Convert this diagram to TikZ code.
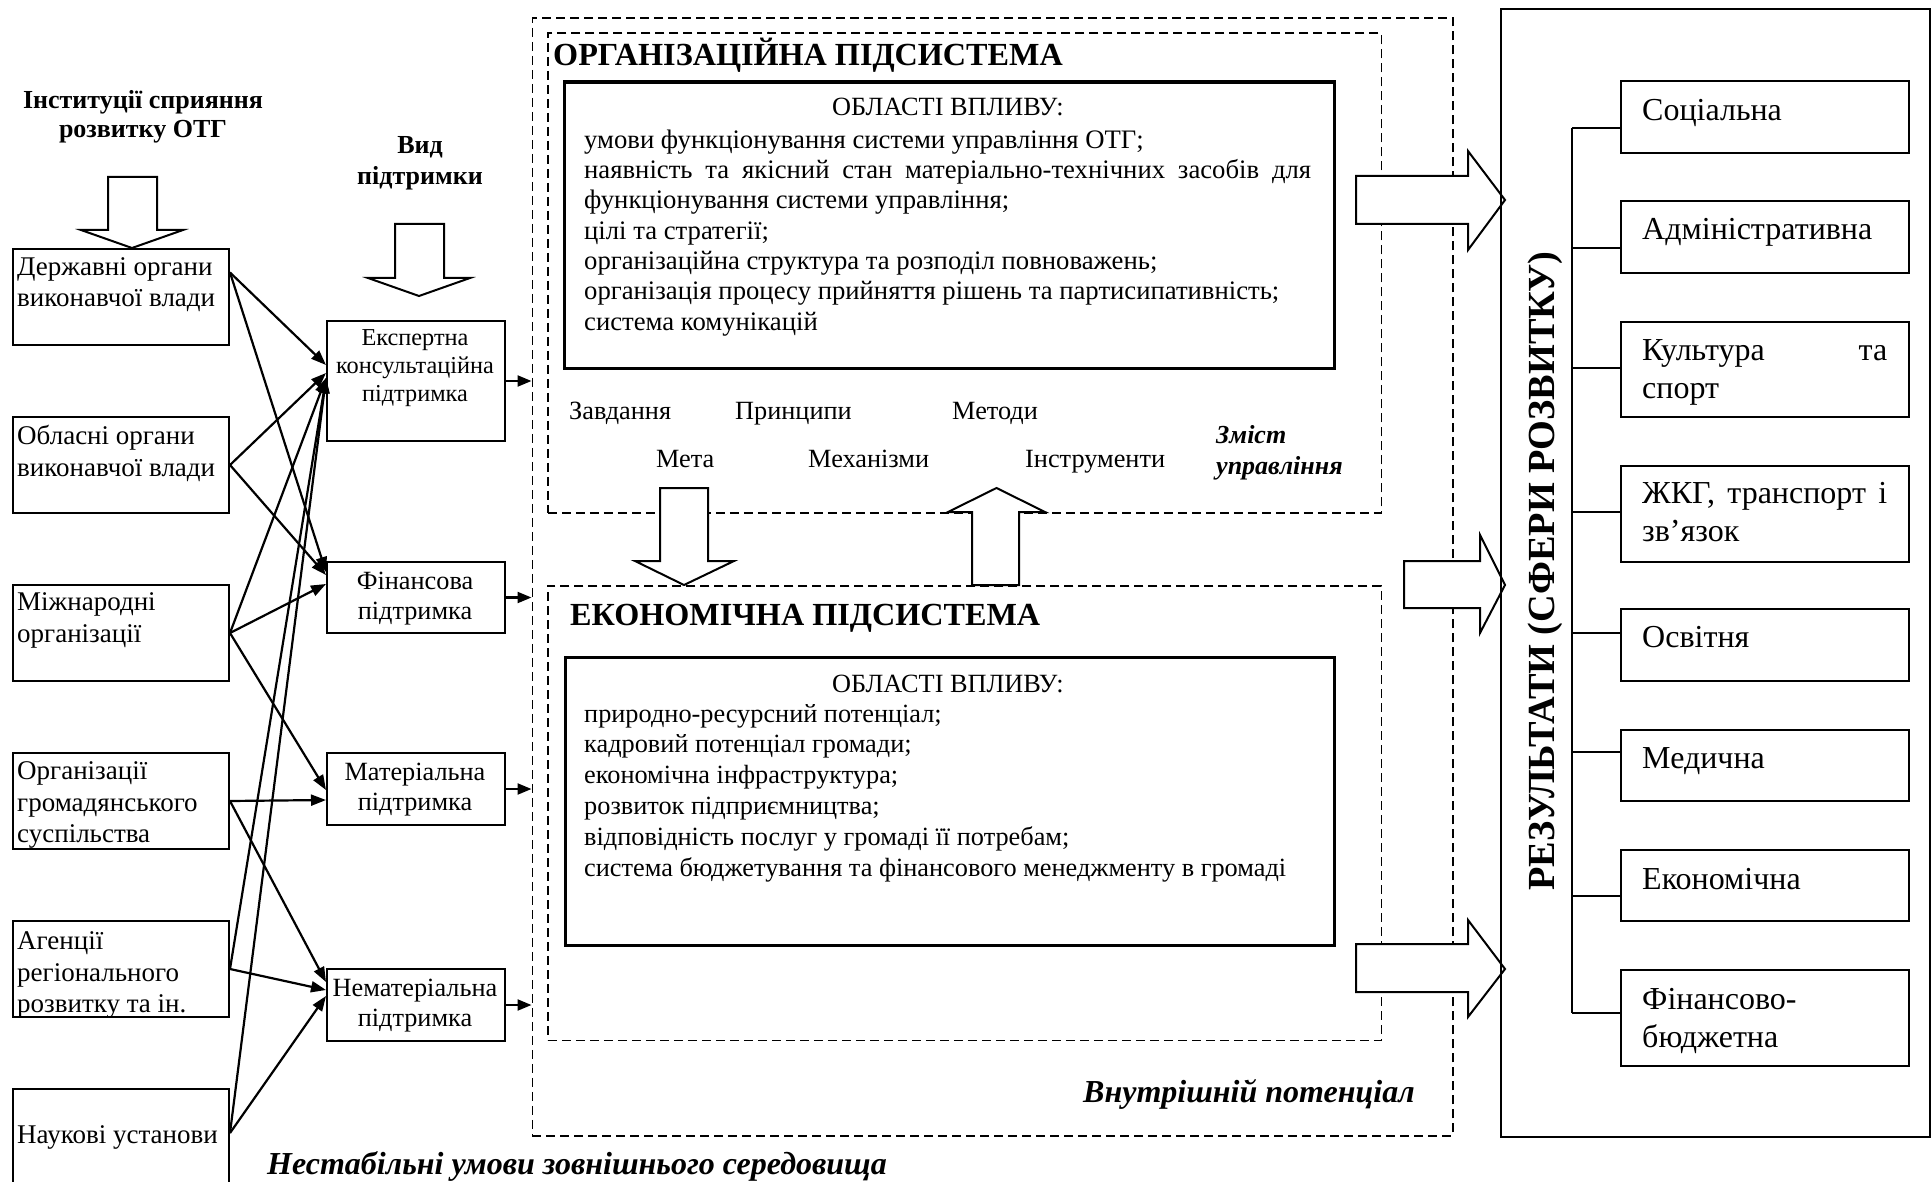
\documentclass[tikz,border=0pt]{standalone}
\usepackage{fontspec}
\setmainfont{Liberation Serif}
\usetikzlibrary{arrows.meta,calc}
\newcommand\myfL{\fontsize{27}{31.5}\selectfont}
\newcommand\myfN{\fontsize{26.3}{30.5}\selectfont}
\newcommand\myfE{\fontsize{24.3}{28}\selectfont}
\newcommand\myfS{\fontsize{32}{38}\selectfont}
\newcommand\myfO{\fontsize{26.7}{30.33}\selectfont}
\newcommand\myfC{\fontsize{26.3}{30.8}\selectfont}
\newcommand\myfT{\fontsize{32.2}{36}\selectfont\bfseries}
\newcommand\myfR{\fontsize{38.3}{44}\selectfont\bfseries}
\newcommand\myfH{\fontsize{26}{29}\selectfont\bfseries}
\newcommand\myfV{\fontsize{26}{31}\selectfont\bfseries}
\newcommand\myfZ{\fontsize{26}{31}\selectfont\bfseries\itshape}
\newcommand\myfI{\fontsize{32}{36}\selectfont\bfseries\itshape}
\begin{document}
\begin{tikzpicture}[x=1pt,y=-1pt,
 box/.style={draw,line width=2pt,inner sep=0pt,anchor=north west},
 tbox/.style={draw,line width=3.2pt,inner sep=0pt,anchor=north west},
 dbox/.style={draw,line width=1.6pt,dash pattern=on 9pt off 5pt,inner sep=0pt,anchor=north west},
 txt/.style={inner sep=0pt,align=left,anchor=north west},
 ctxt/.style={inner sep=0pt,align=center,anchor=north},
 lbl/.style={inner sep=0pt,anchor=base west},
 conn/.style={line width=2.2pt,-{Triangle[length=15pt,width=11pt]}},
 sconn/.style={line width=2.2pt,-{Triangle[length=14pt,width=11pt]}},
 hollow/.style={draw,fill=white,line width=2pt,line join=miter},
 tree/.style={line width=2pt}]
\clip (0,0) rectangle (1932,1182);
\fill[white] (0,0) rectangle (1932,1182);

% dashed frames
\node[dbox,minimum width=920.5pt,minimum height=1117.5pt] (outer) at (531.5,17.5) {};
\node[dbox,minimum width=833.5pt,minimum height=479.5pt] (orgd) at (547,32.5) {};
\node[dbox,minimum width=833.5pt,minimum height=454.5pt] (ecod) at (547,585) {};
% thick boxes
\node[tbox,minimum width=769.5pt,minimum height=286.5pt] (orgb) at (563,80.5) {};
\node[tbox,minimum width=768.5pt,minimum height=288pt] (ecob) at (564,656) {};

% left boxes
\node[box,minimum width=216pt,minimum height=96pt] (b1) at (12,248) {};
\node[box,minimum width=216pt,minimum height=96pt] (b2) at (12,416) {};
\node[box,minimum width=216pt,minimum height=96pt] (b3) at (12,584) {};
\node[box,minimum width=216pt,minimum height=96pt] (b4) at (12,752) {};
\node[box,minimum width=216pt,minimum height=96pt] (b5) at (12,920) {};
\node[box,minimum width=216pt,minimum height=112pt] (b6) at (12,1088) {};
\node[txt,font=\myfL] (t1) at (17,253) {\strut Державні органи\\виконавчої влади};
\node[txt,font=\myfL] (t2) at (17,422.5) {\strut Обласні органи\\виконавчої влади};
\node[txt,font=\myfL] (t3) at (17,588.5) {\strut Міжнародні\\організації};
\node[txt,font=\myfL] (t4) at (17,757.5) {\strut Організації\\громадянського\\суспільства};
\node[txt,font=\myfL] (t5) at (17,927.5) {\strut Агенції\\регіонального\\розвитку та ін.};
\node[lbl,font=\myfL] (t6) at (17,1143) {Наукові установи};

% support boxes
\node[box,minimum width=178pt,minimum height=120pt] (s1) at (326,320) {};
\node[box,minimum width=178pt,minimum height=71pt] (s2) at (326,561) {};
\node[box,minimum width=178pt,minimum height=72pt] (s3) at (326,752) {};
\node[box,minimum width=178pt,minimum height=72pt] (s4) at (326,968) {};
\node[ctxt,font=\myfE] (u1) at (415,325.7) {\strut Експертна\\консультаційна\\підтримка};
\node[ctxt,font=\myfN] (u2) at (415,567.5) {\strut Фінансова\\підтримка};
\node[ctxt,font=\myfN] (u3) at (415,758.5) {\strut Матеріальна\\підтримка};
\node[ctxt,font=\myfN] (u4) at (415,974.5) {\strut Нематеріальна\\підтримка};

% headers
\node[ctxt,font=\myfH] (h1) at (143,88.5) {\strut Інституції сприяння\\розвитку ОТГ};
\node[ctxt,font=\myfV] (h2) at (420,132.1) {\strut Вид\\підтримки};

% subsystem titles and texts
\node[lbl,font=\myfT] (ot) at (553,65.6) {ОРГАНІЗАЦІЙНА ПІДСИСТЕМА};
\node[lbl,font=\myfT] (et) at (570,625.6) {ЕКОНОМІЧНА ПІДСИСТЕМА};
\node[inner sep=0pt,anchor=base,font=\myfN] (oa) at (948,115.6) {ОБЛАСТІ ВПЛИВУ:};
\node[txt,font=\myfO] (ol) at (584,126.8) {\strut умови функціонування системи управління ОТГ;\\\makebox[727pt][s]{наявність та якісний стан матеріально-технічних засобів для}\\функціонування системи управління;\\цілі та стратегії;\\організаційна структура та розподіл повноважень;\\організація процесу прийняття рішень та партисипативність;\\система комунікацій};
\node[inner sep=0pt,anchor=base,font=\myfN] (ea) at (948,692.6) {ОБЛАСТІ ВПЛИВУ:};
\node[txt,font=\myfC] (el) at (584,700.3) {\strut природно-ресурсний потенціал;\\кадровий потенціал громади;\\економічна інфраструктура;\\розвиток підприємництва;\\відповідність послуг у громаді її потребам;\\система бюджетування та фінансового менеджменту в громаді};

\node[lbl,font=\myfN] (k1) at (569,419) {Завдання};
\node[lbl,font=\myfN] (k2) at (735,419) {Принципи};
\node[lbl,font=\myfN] (k3) at (952,419) {Методи};
\node[lbl,font=\myfN] (k4) at (656,467) {Мета};
\node[lbl,font=\myfN] (k5) at (808,467) {Механізми};
\node[lbl,font=\myfN] (k6) at (1025,467) {Інструменти};
\node[txt,font=\myfZ] (zm) at (1216,422) {\strut Зміст\\управління};
\node[lbl,font=\myfI] (vp) at (1083,1102.6) {Внутрішній потенціал};
\node[lbl,font=\myfI] (ns) at (267,1174) {Нестабільні умови зовнішнього середовища};

% hollow arrows
\draw[hollow] (108,177)--(157,177)--(157,230)--(183,230)--(132,248)--(81,230)--(108,230)--cycle;
\draw[hollow] (395,224)--(444,224)--(444,278)--(470,278)--(419,296)--(368,278)--(395,278)--cycle;
\draw[hollow] (660,488)--(708,488)--(708,561)--(734,561)--(684,585)--(635,561)--(660,561)--cycle;
\draw[hollow] (972,585)--(972,512)--(948,512)--(996.5,488)--(1045,512)--(1019,512)--(1019,585)--cycle;
\draw[hollow] (1356,176)--(1468,176)--(1468,151)--(1505,200)--(1468,250)--(1468,224)--(1356,224)--cycle;
\draw[hollow] (1404,561)--(1480,561)--(1480,535)--(1505,585)--(1480,633)--(1480,608)--(1404,608)--cycle;
\draw[hollow] (1356,944)--(1468,944)--(1468,920)--(1505,969)--(1468,1017)--(1468,992)--(1356,992)--cycle;

% connectors
\coordinate (a1) at ($(b1.north east)!0.25!(b1.south east)$);
\coordinate (a6) at ($(b6.north east)+(0,45)$);
\draw[conn] (a1) -- ($(s1.north west)+(0,45)$);
\draw[conn] (a1) -- ($(s2.north west)+(0,11)$);
\draw[conn] (b2.east) -- ($(s1.north west)+(0,53)$);
\draw[conn] (b2.east) -- ($(s2.north west)+(0,14)$);
\draw[conn] (b3.east) -- ($(s1.north west)+(0,58)$);
\draw[conn] (b3.east) -- ($(s2.north west)+(0,23)$);
\draw[conn] (b3.east) -- ($(s3.north west)+(0,38)$);
\draw[conn] (b4.east) -- ($(s3.north west)+(0,48)$);
\draw[conn] (b4.east) -- ($(s4.north west)+(0,14)$);
\draw[conn] (b5.east) -- ($(s1.north west)+(0,58)$);
\draw[conn] (b5.east) -- ($(s4.north west)+(0,22)$);
\draw[conn] (a6) -- ($(s1.north west)+(0,58)$);
\draw[conn] (a6) -- ($(s4.north west)+(0,28)$);
\foreach \s in {s1,s2,s3,s4} \draw[sconn] (\s.east) -- (\s.east -| outer.west);

% results
\node[draw,line width=2pt,inner sep=0pt,anchor=north west,minimum width=429pt,minimum height=1128pt] (res) at (1500,8) {};
\node[rotate=90,inner sep=0pt,font=\myfR] (rt) at (1545,571) {РЕЗУЛЬТАТИ (СФЕРИ РОЗВИТКУ)};
\node[box,minimum width=288pt,minimum height=72pt] (sp1) at (1620,80) {};
\node[box,minimum width=288pt,minimum height=72pt] (sp2) at (1620,200) {};
\node[box,minimum width=288pt,minimum height=95pt] (sp3) at (1620,321) {};
\node[box,minimum width=288pt,minimum height=96pt] (sp4) at (1620,465) {};
\node[box,minimum width=288pt,minimum height=72pt] (sp5) at (1620,608) {};
\node[box,minimum width=288pt,minimum height=71pt] (sp6) at (1620,729) {};
\node[box,minimum width=288pt,minimum height=71pt] (sp7) at (1620,849) {};
\node[box,minimum width=288pt,minimum height=96pt] (sp8) at (1620,969) {};
\node[lbl,font=\myfS] (q1) at (1642,121) {Соціальна};
\node[lbl,font=\myfS] (q2) at (1642,240) {Адміністративна};
\node[txt,font=\myfS] (q3) at (1642,334) {\strut\makebox[245pt][s]{Культура та}\\спорт};
\node[txt,font=\myfS] (q4) at (1642,477) {\strut\makebox[245pt][s]{ЖКГ, транспорт і}\\зв’язок};
\node[lbl,font=\myfS] (q5) at (1642,647) {Освітня};
\node[lbl,font=\myfS] (q6) at (1642,768) {Медична};
\node[lbl,font=\myfS] (q7) at (1642,889) {Економічна};
\node[txt,font=\myfS] (q8) at (1642,983) {\strut Фінансово-\\бюджетна};
\coordinate (tt) at (1572,128);
\coordinate (tb) at (1572,1013);
\draw[tree] (tt) -- (tb);
\foreach \n/\y in {1/128,2/248,3/368,4/512,5/633,6/752,7/896,8/1013}{
  \coordinate (c\n) at (1572,\y);
  \draw[tree] (c\n) -- (c\n -| sp\n.west);
}
\end{tikzpicture}
\end{document}
